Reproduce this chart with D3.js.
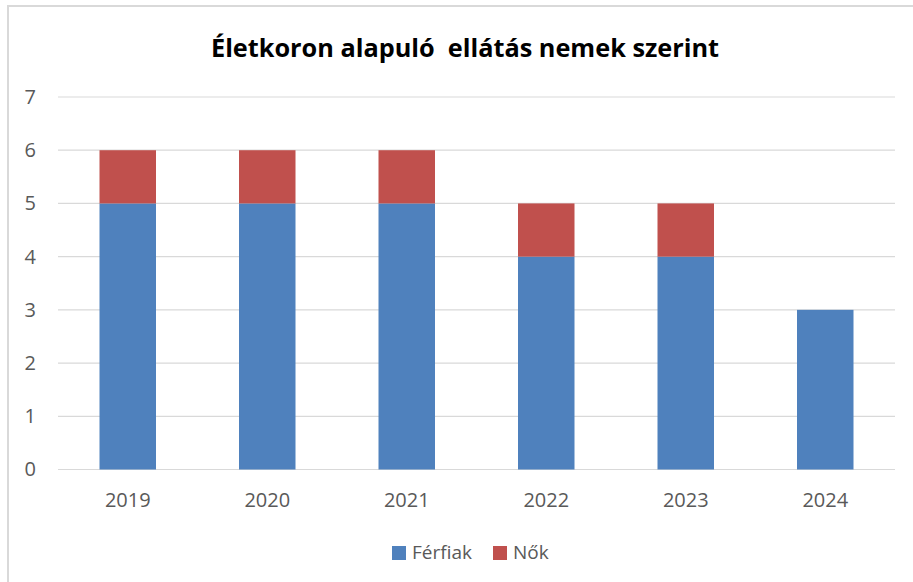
<!DOCTYPE html>
<html>
<head>
<meta charset="utf-8">
<script src="https://cdn.jsdelivr.net/npm/d3@7/dist/d3.min.js"></script>
<style>
  html, body { margin: 0; padding: 0; background: #fff; }
  svg { display: block; }
  text { font-family: "Open Sans", "Noto Sans", sans-serif; }
</style>
</head>
<body>
<svg id="chart" width="913" height="582"></svg>
<script>
// Age-based benefit recipients by sex, per year
const years = ["2019", "2020", "2021", "2022", "2023", "2024"];
const men   = [5, 5, 5, 4, 4, 3];
const women = [1, 1, 1, 1, 1, 0];
const seriesNames  = ["Férfiak", "Nők"];
const seriesColors = ["#4F81BD", "#C0504D"];
const yTicks = [0, 1, 2, 3, 4, 5, 6, 7];
const title = "Életkoron alapuló  ellátás nemek szerint";

const svg = d3.select("#chart");
const W = 913, H = 582;

// outer frame
svg.append("rect")
  .attr("x", 8).attr("y", 6)
  .attr("width", W + 10).attr("height", H + 10)
  .attr("fill", "#fff")
  .attr("stroke", "#d9d9d9").attr("stroke-width", 2);

const plot = { left: 58, right: 895, top: 97, bottom: 469.5 };

const x = d3.scaleBand()
  .domain(years)
  .range([plot.left, plot.right])
  .padding(0);

const y = d3.scaleLinear()
  .domain([0, 7])
  .range([plot.bottom, plot.top]);

// gridlines
svg.append("g")
  .selectAll("line")
  .data(yTicks)
  .join("line")
  .attr("x1", plot.left).attr("x2", plot.right)
  .attr("y1", d => y(d)).attr("y2", d => y(d))
  .attr("stroke", "#d9d9d9").attr("stroke-width", 1.2);

// y axis labels
const yAxis = d3.axisLeft(y).tickValues(yTicks).tickFormat(d3.format("d")).tickSize(0).tickPadding(0);
const gy = svg.append("g").attr("transform", `translate(${plot.left - 22},0)`).call(yAxis);
gy.select(".domain").remove();
gy.selectAll("text")
  .attr("fill", "#595959")
  .style("font-size", "20px")
  .style("font-family", "\"Open Sans\", sans-serif");

// x axis labels
const xAxis = d3.axisBottom(x).tickSize(0).tickPadding(0);
const gx = svg.append("g").attr("transform", `translate(0,${plot.bottom + 23.5})`).call(xAxis);
gx.select(".domain").remove();
gx.selectAll("text")
  .attr("fill", "#595959")
  .style("font-size", "20px")
  .style("font-family", "\"Open Sans\", sans-serif");

// stacked bars
const rows = years.map((yr, i) => ({ year: yr, [seriesNames[0]]: men[i], [seriesNames[1]]: women[i] }));
const stack = d3.stack().keys(seriesNames)(rows);
const barW = x.bandwidth() * 0.405;

svg.append("g")
  .selectAll("g")
  .data(stack)
  .join("g")
  .attr("fill", (d, i) => seriesColors[i])
  .selectAll("rect")
  .data(d => d.filter(s => s[1] - s[0] > 0))
  .join("rect")
  .attr("x", d => x(d.data.year) + (x.bandwidth() - barW) / 2)
  .attr("width", barW)
  .attr("y", d => y(d[1]))
  .attr("height", d => y(d[0]) - y(d[1]));

// title
svg.append("text")
  .attr("x", 465).attr("y", 57)
  .attr("text-anchor", "middle")
  .attr("fill", "#000")
  .style("font-size", "25px")
  .style("font-weight", "bold")
  .style("white-space", "pre")
  .attr("textLength", 508)
  .attr("lengthAdjust", "spacingAndGlyphs")
  .text(title);

// legend
const legendItems = [
  { name: seriesNames[0], color: seriesColors[0], x: 392, w: 64 },
  { name: seriesNames[1], color: seriesColors[1], x: 493, w: 36 }
];
const lg = svg.append("g");
legendItems.forEach(it => {
  lg.append("rect")
    .attr("x", it.x).attr("y", 546)
    .attr("width", 14).attr("height", 14)
    .attr("fill", it.color);
  lg.append("text")
    .attr("x", it.x + 20).attr("y", 559)
    .attr("fill", "#595959")
    .style("font-size", "19px")
    .text(it.name);
});
</script>
</body>
</html>
